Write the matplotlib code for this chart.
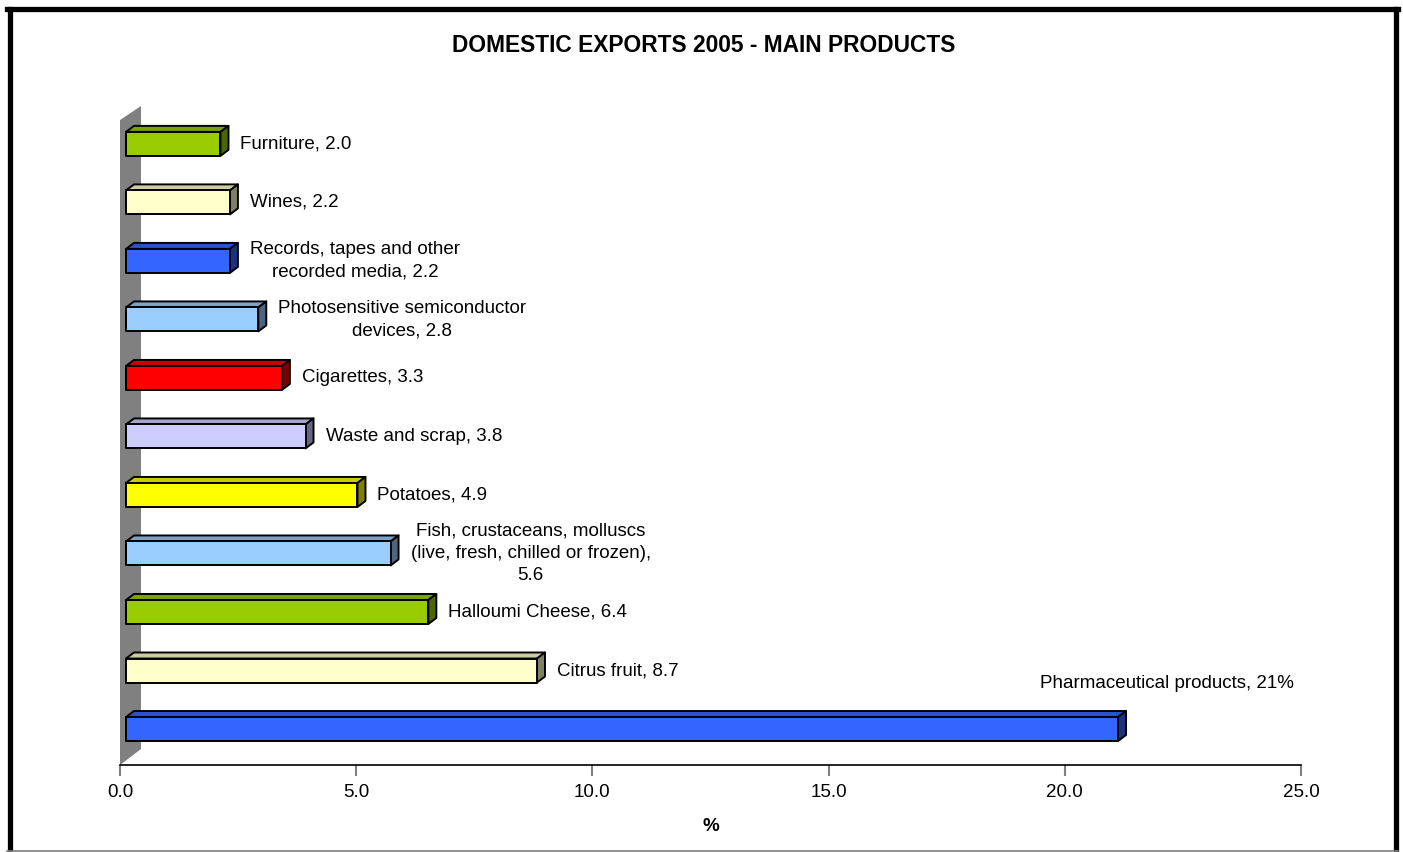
import matplotlib.pyplot as plt
from matplotlib.patches import Polygon
from matplotlib.lines import Line2D
from matplotlib.colors import to_rgb

plt.rcParams['font.family'] = ['Liberation Sans', 'DejaVu Sans']

# Data (top to bottom in the chart)
products = ['Furniture', 'Wines', 'Records, tapes and other\nrecorded media',
            'Photosensitive semiconductor\ndevices', 'Cigarettes', 'Waste and scrap',
            'Potatoes', 'Fish, crustaceans, molluscs\n(live, fresh, chilled or frozen),\n',
            'Halloumi Cheese', 'Citrus fruit', 'Pharmaceutical products']
shares = [2.0, 2.2, 2.2, 2.8, 3.3, 3.8, 4.9, 5.6, 6.4, 8.7, 21.0]
colors = ['#99CC00', '#FFFFCC', '#3366FF', '#99CCFF', '#FF0000', '#CCCCFF',
          '#FFFF00', '#99CCFF', '#99CC00', '#FFFFCC', '#3366FF']
xticks = [0, 5, 10, 15, 20, 25]

W, H = 1403, 852
fig = plt.figure(figsize=(W / 100, H / 100), dpi=100)
ax_l, ax_r, ax_t, ax_b = 120, 1301, 100, 765
ax = fig.add_axes([ax_l / W, 1 - ax_b / H, (ax_r - ax_l) / W, (ax_b - ax_t) / H])

n = len(products)
ylo, yhi = -0.615, 10.75
ax.set_xlim(0, 25)
ax.set_ylim(ylo, yhi)
px = 25 / (ax_r - ax_l)           # data units per pixel (x)
py = (yhi - ylo) / (ax_b - ax_t)  # data units per pixel (y)

def shade(c, f):
    r, g, b = to_rgb(c)
    return (r * f, g * f, b * f)

# back wall
wall = Polygon([(0, ylo), (21 * px, ylo + 16 * py), (21 * px, yhi - 6 * py),
                (0, yhi - 20 * py)], closed=True, facecolor='#808080',
               edgecolor='none', zorder=1)
ax.add_patch(wall)

x0 = 6 * px
hh = 12 * py
dx, dy = 8 * px, 6 * py
for i, (name, val, col) in enumerate(zip(products, shares, colors)):
    yc = n - 1 - i
    x1 = x0 + val
    front = [(x0, yc - hh), (x1, yc - hh), (x1, yc + hh), (x0, yc + hh)]
    top = [(x0, yc + hh), (x1, yc + hh), (x1 + dx, yc + hh + dy), (x0 + dx, yc + hh + dy)]
    side = [(x1, yc - hh), (x1 + dx, yc - hh + dy), (x1 + dx, yc + hh + dy), (x1, yc + hh)]
    for pts, f in ((top, 0.8), (side, 0.5), (front, 1.0)):
        ax.add_patch(Polygon(pts, closed=True, facecolor=shade(col, f),
                             edgecolor='black', linewidth=1.4, joinstyle='round', zorder=3))
    if i == n - 1:
        ax.text(19.47, yc + 46 * py, f'{name}, {val:.0f}%', fontsize=13.5,
                ha='left', va='center')
    else:
        label = f'{name}{val:.1f}' if name.endswith('\n') else f'{name}, {val:.1f}'
        ax.text(x1 + dx + 12 * px, yc, label, fontsize=13.5, ha='left', va='center',
                multialignment='center', linespacing=1.4)

for s in ('top', 'right', 'left'):
    ax.spines[s].set_visible(False)
ax.spines['bottom'].set_color('black')
ax.spines['bottom'].set_linewidth(1.2)
ax.set_yticks([])
ax.set_xticks(xticks)
ax.set_xticklabels([f'{t:.1f}' for t in xticks], fontsize=13.5)
ax.tick_params(axis='x', direction='out', length=8, width=1.5, color='#808080', pad=6)
ax.set_xlabel('%', fontsize=13.5, fontweight='bold', labelpad=12)

fig.text(703.5 / W, 1 - 45 / H, 'DOMESTIC EXPORTS 2005 - MAIN PRODUCTS',
         fontsize=16.4, fontweight='bold', ha='center', va='center')

# chart frame
lw = 3.8
fig.add_artist(Line2D([9.5 / W, 9.5 / W], [0, 1 - 8.5 / H], color='black', lw=lw,
                      transform=fig.transFigure))
fig.add_artist(Line2D([7 / W, 1398 / W], [1 - 8.5 / H, 1 - 8.5 / H], color='black', lw=lw,
                      transform=fig.transFigure))
fig.add_artist(Line2D([1396 / W, 1396 / W], [0, 1 - 8.5 / H], color='black', lw=lw,
                      transform=fig.transFigure))
fig.add_artist(Line2D([7 / W, 1398 / W], [1 - 850.5 / H, 1 - 850.5 / H], color='#808080',
                      lw=1.2, transform=fig.transFigure))

fig.savefig('out.png', dpi=100)
